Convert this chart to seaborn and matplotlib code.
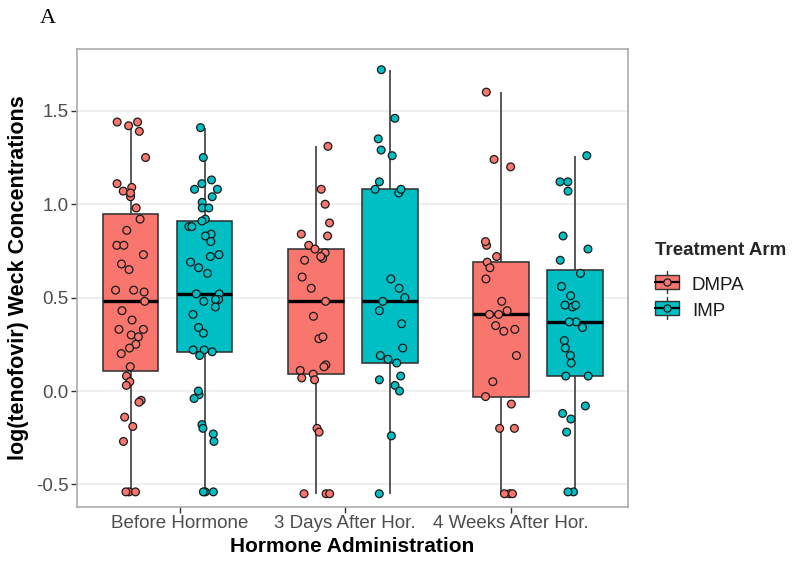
import numpy as np
import pandas as pd
import matplotlib
matplotlib.use("Agg")
import matplotlib.pyplot as plt
from matplotlib.lines import Line2D
from matplotlib.patches import Rectangle
import seaborn as sns

# ---------------- data ----------------
times = ["Before Hormone", "3 Days After Hor.", "4 Weeks After Hor."]
arms = ["DMPA", "IMP"]

dmpa_before = [1.44, 1.39, 1.42, 1.44, 1.25, 1.09, 1.04, 1.11, 1.07, 1.06, 0.98, 0.92,
               0.86, 0.78, 0.78, 0.73, 0.68, 0.65, 0.53, 0.54, 0.54, 0.48, 0.43, 0.38,
               0.33, 0.33, 0.30, 0.29, 0.25, 0.23, 0.20, 0.13, 0.08, 0.05, 0.03, -0.05,
               -0.06, -0.14, -0.19, -0.27, -0.54, -0.54, -0.54]
imp_before = [1.41, 1.25, 1.13, 1.11, 1.08, 1.08, 1.04, 1.01, 0.98, 0.98, 0.92, 0.91,
              0.88, 0.88, 0.84, 0.83, 0.80, 0.73, 0.72, 0.69, 0.66, 0.63, 0.52, 0.52,
              0.49, 0.49, 0.48, 0.45, 0.41, 0.34, 0.31, 0.21, 0.22, 0.22, 0.19, -0.02,
              0.00, -0.04, -0.18, -0.20, -0.23, -0.27, -0.54, -0.54, -0.54]
dmpa_3d = [1.31, 1.08, 1.00, 0.90, 0.84, 0.83, 0.78, 0.76, 0.74, 0.71, 0.70, 0.72, 0.61,
           0.55, 0.48, 0.40, 0.28, 0.29, 0.14, 0.13, 0.11, 0.09, 0.06, 0.07, -0.20,
           -0.22, -0.55, -0.55, -0.55]
imp_3d = [1.72, 1.46, 1.35, 1.29, 1.26, 1.12, 1.06, 1.08, 1.08, 0.60, 0.55, 0.50, 0.48,
          0.43, 0.36, 0.23, 0.19, 0.17, 0.15, 0.08, 0.06, 0.03, 0.00, -0.24, -0.55]
dmpa_4w = [1.60, 1.24, 1.20, 0.78, 0.80, 0.72, 0.69, 0.66, 0.60, 0.48, 0.43, 0.41, 0.41,
           0.35, 0.32, 0.33, 0.19, 0.05, -0.03, -0.07, -0.20, -0.20, -0.55, -0.55, -0.55]
imp_4w = [1.26, 1.12, 1.12, 1.07, 0.83, 0.76, 0.70, 0.63, 0.56, 0.51, 0.45, 0.46, 0.46,
          0.37, 0.37, 0.34, 0.27, 0.23, 0.19, 0.15, 0.08, 0.08, -0.08, -0.12, -0.15,
          -0.22, -0.54, -0.54]

y_ticks = [-0.5, 0.0, 0.5, 1.0, 1.5]
y_ticklabels = ["-0.5", "0.0", "0.5", "1.0", "1.5"]

colors = {"DMPA": "#F8766D", "IMP": "#00BFC4"}

series = {
    ("Before Hormone", "DMPA"): dmpa_before,
    ("Before Hormone", "IMP"): imp_before,
    ("3 Days After Hor.", "DMPA"): dmpa_3d,
    ("3 Days After Hor.", "IMP"): imp_3d,
    ("4 Weeks After Hor.", "DMPA"): dmpa_4w,
    ("4 Weeks After Hor.", "IMP"): imp_4w,
}
rows = []
for (t, a), vals in series.items():
    for v in vals:
        rows.append({"time": t, "arm": a, "value": v})
df = pd.DataFrame(rows)

# ---------------- style ----------------
sns.set_style("white")
plt.rcParams["font.family"] = ["Liberation Sans", "DejaVu Sans"]
plt.rcParams["axes.unicode_minus"] = False

fig = plt.figure(figsize=(7.94, 5.70), dpi=100)
ax = fig.add_axes([77 / 794, 1 - 507 / 570, (628 - 77) / 794, (507 - 49) / 570])

sns.boxplot(data=df, x="time", y="value", hue="arm", order=times, hue_order=arms,
            palette=colors, saturation=1, width=0.8, gap=0.25, whis=1.5,
            linecolor="#333333", linewidth=1.15, showcaps=False, showfliers=False,
            medianprops=dict(color="black", linewidth=2.4),
            legend=False, ax=ax, zorder=2)

np.random.seed(7)
sns.stripplot(data=df, x="time", y="value", hue="arm", order=times, hue_order=arms,
              palette=colors, dodge=True, jitter=0.17, size=5.6,
              edgecolor="#1a1a1a", linewidth=0.9, legend=False, ax=ax, zorder=3)

ax.set_xlim(-0.489, 2.486)
ax.set_ylim(-0.621, 1.831)
ax.set_yticks(y_ticks)
ax.set_yticklabels(y_ticklabels)
ax.set_xticks([0.067, 0.958, 1.854])
ax.set_xticklabels(times)

ax.yaxis.grid(True, color="#EBEBEB", linewidth=1.1)
ax.xaxis.grid(False)
ax.set_axisbelow(True)
for s in ax.spines.values():
    s.set_visible(True)
    s.set_color("#ABABAB")
    s.set_linewidth(1.2)

ax.tick_params(axis="both", length=4, width=1, color="#333333",
               labelcolor="#4D4D4D", labelsize=13.5, pad=2, bottom=True, left=True)

ax.set_xlabel("Hormone Administration", fontsize=15, fontweight="bold",
              color="black", labelpad=3)
ax.set_ylabel("log(tenofovir) Weck Concentrations", fontsize=15.5,
              fontweight="bold", color="black", labelpad=5)

fig.text(0.050, 0.984, "A", family=["Liberation Serif", "DejaVu Serif"],
         fontsize=16, va="top", ha="left", color="black")


# ---------------- legend with boxplot-style keys ----------------
class BoxKey:
    def __init__(self, color):
        self.color = color


class BoxKeyHandler:
    def legend_artist(self, legend, orig_handle, fontsize, handlebox):
        x0, y0 = handlebox.xdescent, handlebox.ydescent
        w, h = handlebox.width, handlebox.height
        tr = handlebox.get_transform()
        cx = x0 + w / 2
        whisk = Line2D([cx, cx], [y0 - 0.25 * h, y0 + 1.25 * h], color="#333333",
                       lw=1.0, transform=tr)
        rect = Rectangle((x0, y0), w, h, facecolor=orig_handle.color,
                         edgecolor="#333333", lw=1.0, transform=tr)
        med = Line2D([x0, x0 + w], [y0 + h / 2, y0 + h / 2], color="black",
                     lw=1.6, transform=tr)
        pt = Line2D([cx], [y0 + h / 2], marker="o", markersize=5.2,
                    markerfacecolor=orig_handle.color, markeredgecolor="#1a1a1a",
                    markeredgewidth=0.9, linestyle="", transform=tr)
        for art in (whisk, rect, med, pt):
            handlebox.add_artist(art)
        return rect


handles = [BoxKey(colors[a]) for a in arms]
leg = fig.legend(handles, arms, handler_map={BoxKey: BoxKeyHandler()},
                 loc="upper left", bbox_to_anchor=(646 / 794, 1 - 233 / 570),
                 frameon=False, fontsize=13.5, title="Treatment Arm",
                 title_fontproperties={"weight": "bold", "size": 13.5},
                 handlelength=1.25, handleheight=0.8, handletextpad=0.7,
                 labelspacing=0.45, borderpad=0.0, alignment="left")
leg._legend_box.sep = 12
for t in leg.get_texts():
    t.set_color("#1a1a1a")

fig.savefig("out.png", dpi=100)
